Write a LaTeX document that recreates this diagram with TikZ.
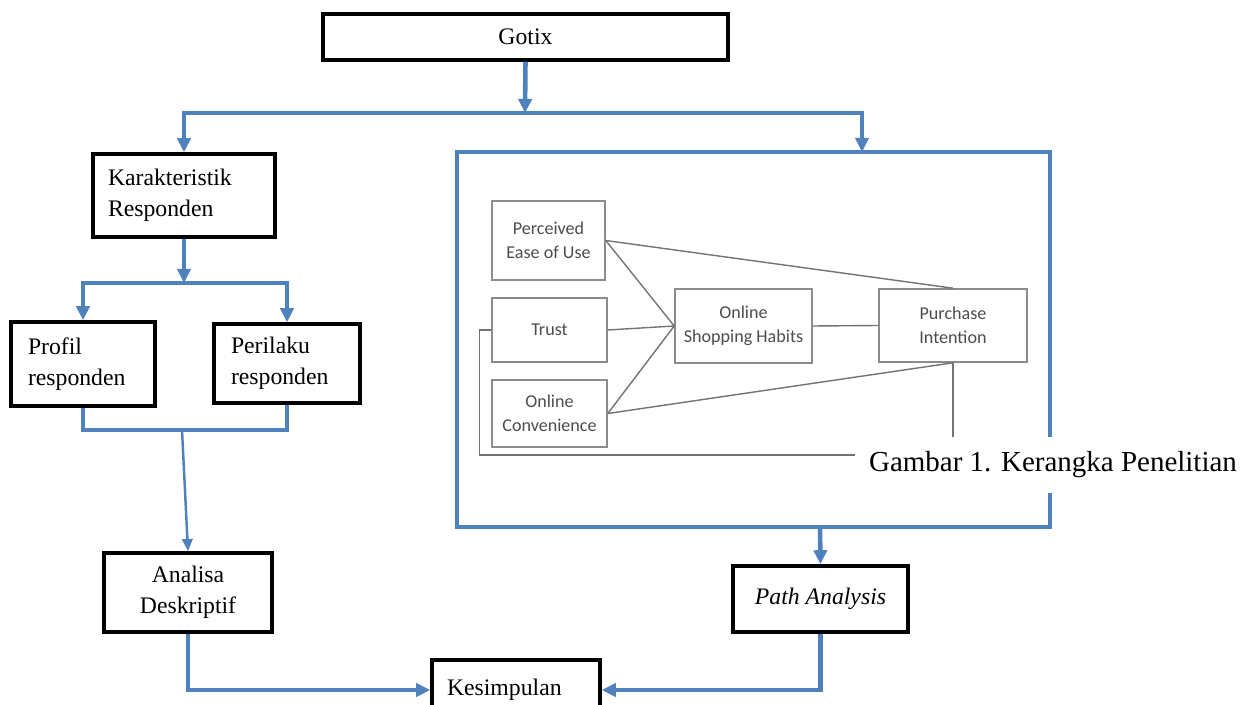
\documentclass[tikz,border=0pt]{standalone}
\usepackage{fontspec}
\setmainfont{Liberation Serif}
\newfontfamily\calibri{Carlito}
\usepackage{tikz}
\usetikzlibrary{arrows.meta}
\definecolor{flowblue}{RGB}{79,129,189}
\tikzstyle{mainbox} = [rectangle,
draw=black,
line width=2pt,
fill=white,
inner sep=0pt,
font=\fontsize{13.5}{17.5}\selectfont]
\tikzstyle{modelbox} = [rectangle,
draw=black!45,
line width=0.9pt,
text=black!70,
align=center,
inner sep=0pt,
font=\calibri\fontsize{10.3}{13.6}\selectfont]
\tikzstyle{modelline} = [draw=black!55, line width=0.8pt]
\tikzstyle{flow} = [draw=flowblue, line width=2.6pt]
\tikzstyle{arrow} = [flow, -{Triangle[length=8pt,width=7.5pt]}]
\tikzstyle{fork} = [flow, {Triangle[length=8pt,width=7.5pt]}-{Triangle[length=8pt,width=7.5pt]}]

\begin{document}
\begin{tikzpicture}[x=0.02cm, y=-0.02cm]
            \useasboundingbox (0,0) rectangle (1251,705);
            \node (gotix) [mainbox, minimum width=8.1cm, minimum height=0.92cm] at (525.5,37) {Gotix};
            \node (karak) [mainbox, minimum width=3.64cm, minimum height=1.66cm, text width=3.04cm, inner xsep=0.3cm, align=left] at (184,195.5) {Karakteristik\\Responden};
            \node (profil) [mainbox, minimum width=2.88cm, minimum height=1.68cm, text width=2.2cm, inner xsep=0.34cm, align=left] at (83,364) {Profil\\responden};
            \node (perilaku) [mainbox, minimum width=2.92cm, minimum height=1.58cm, text width=2.24cm, inner xsep=0.34cm, align=left] at (287,363.5) {Perilaku\\responden};
            \node (analisa) [mainbox, minimum width=3.36cm, minimum height=1.58cm, align=center] at (188,592.5) {Analisa\\Deskriptif};
            \node (pathan) [mainbox, minimum width=3.5cm, minimum height=1.32cm] at (820.5,599) {\itshape Path Analysis};
            \node (kesim) [mainbox, minimum width=3.36cm, minimum height=1.2cm, text width=2.76cm, inner xsep=0.3cm, align=left] at (516,690) {Kesimpulan};
            \node (frame) [draw=flowblue, line width=2.6pt, minimum width=11.86cm, minimum height=7.5cm] at (753.5,339.5) {};

            \node (peou) [modelbox, minimum width=2.26cm, minimum height=1.58cm] at (548.5,240.5) {Perceived\\Ease of Use};
            \node (trust) [modelbox, minimum width=2.3cm, minimum height=1.28cm] at (549.5,330) {Trust};
            \node (conv) [modelbox, minimum width=2.3cm, minimum height=1.34cm] at (549.5,413.5) {Online\\Convenience};
            \node (osh) [modelbox, minimum width=2.74cm, minimum height=1.48cm] at (743.5,326) {Online\\Shopping Habits};
            \node (pi) [modelbox, minimum width=2.96cm, minimum height=1.46cm] at (953,325.5) {Purchase\\Intention};

            \coordinate (split1) at (525,113);
            \coordinate (framein) at (862,152);
            \coordinate (split2) at (184,283);
            \coordinate (join) at (182,430);
            \coordinate (frameout) at (820,527);
            \coordinate (loopend) at (880,455);

            \draw [modelline] (peou.east) -- (osh.west);
            \draw [modelline] (peou.east) -- (pi.north);
            \draw [modelline] (trust.east) -- (osh.west);
            \draw [modelline] (conv.east) -- (osh.west);
            \draw [modelline] (conv.east) -- (pi.south);
            \draw [modelline] (osh.east) -- (pi.west);
            \draw [modelline] (pi.south) -- ++(0,90);
            \draw [modelline] (trust.west) -- ++(-12,0) |- (loopend);

            \node (caption) [fill=white, inner sep=0pt, minimum width=7.92cm, minimum height=1.12cm, font=\fontsize{16.5}{19}\selectfont] at (1053,465) {Gambar 1. Kerangka Penelitian};

            \draw [arrow] (gotix.south) -- (split1);
            \draw [fork] (karak.north) |- (split1) -| (framein);
            \draw [arrow] (karak.south) -- (split2);
            \draw [fork] (profil.north) |- (split2) -| (perilaku.north);
            \draw [flow] (profil.south) |- (join) -| (perilaku.south);
            \draw [draw=flowblue, line width=1.4pt, -{Triangle[length=7pt,width=6pt]}] (join) -- (analisa.north);
            \draw [arrow] (frameout) -- (pathan.north);
            \draw [arrow] (analisa.south) |- (kesim.west);
            \draw [arrow] (pathan.south) |- (kesim.east);
        \end{tikzpicture}
\end{document}
